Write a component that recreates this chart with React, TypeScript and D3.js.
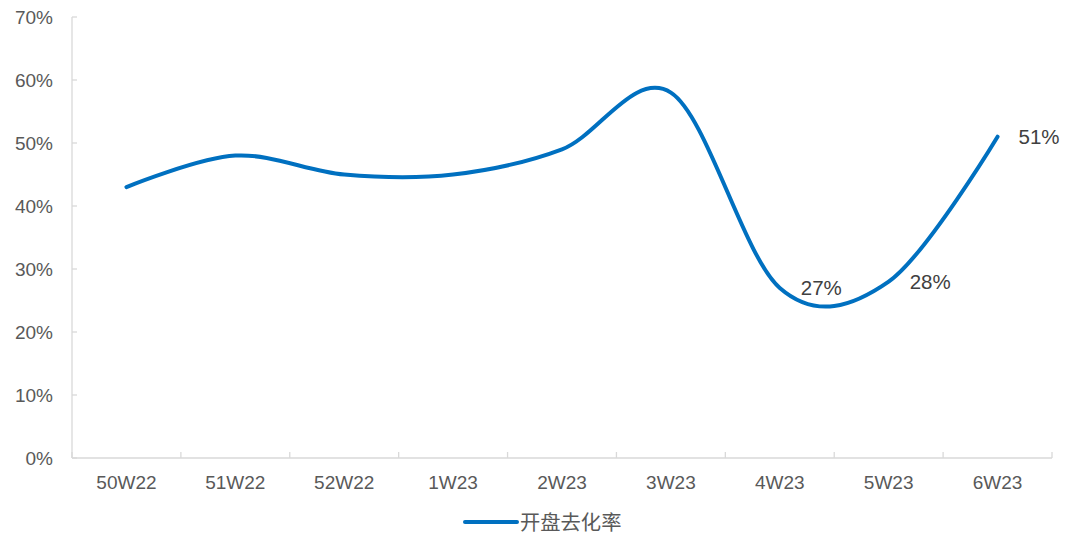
import React from "react";
import * as d3 from "d3";

const categories = ["50W22", "51W22", "52W22", "1W23", "2W23", "3W23", "4W23", "5W23", "6W23"];
const values = [0.43, 0.48, 0.45, 0.45, 0.49, 0.58, 0.27, 0.28, 0.51];
const labeledIdx = [6, 7, 8];
const yTicks = [0, 0.1, 0.2, 0.3, 0.4, 0.5, 0.6, 0.7];
const seriesName = "开盘去化率";

const W = 1076;
const H = 537;
const left = 72;
const right = 1052;
const top = 17;
const bottom = 458;
const font = "'Liberation Sans', Arial, sans-serif";

export default function App() {
  const x = d3.scaleBand<string>().domain(categories).range([left, right]);
  const y = d3.scaleLinear().domain([0, 0.7]).range([bottom, top]);
  const cx = (c: string) => (x(c) ?? 0) + x.bandwidth() / 2;
  const line = d3
    .line<number>()
    .x((_, i) => cx(categories[i]))
    .y((d) => y(d))
    .curve(d3.curveCardinal.tension(0));
  const boundaries = d3.range(categories.length + 1).map((i) => left + i * x.bandwidth());
  const axisColor = "#d9d9d9";
  return (
    <svg width={W} height={H} style={{ position: "absolute", left: 0, top: 0 }}>
      <rect width={W} height={H} fill="#fff" />
      {/* y axis */}
      <line x1={left} x2={left} y1={top} y2={bottom} stroke={axisColor} strokeWidth={1.3} />
      {yTicks.map((t) => (
        <g key={t}>
          <line x1={left} x2={left + 5} y1={y(t)} y2={y(t)} stroke={axisColor} strokeWidth={1.3} />
          <text
            x={53}
            y={y(t)}
            dy="0.36em"
            textAnchor="end"
            fontFamily={font}
            fontSize={19}
            fill="#595959"
          >
            {Math.round(t * 100) + "%"}
          </text>
        </g>
      ))}
      {/* x axis */}
      <line x1={left} x2={right} y1={bottom} y2={bottom} stroke={axisColor} strokeWidth={1.3} />
      {boundaries.map((b, i) => (
        <line key={i} x1={b} x2={b} y1={bottom} y2={bottom - 6} stroke={axisColor} strokeWidth={1.3} />
      ))}
      {categories.map((c) => (
        <text
          key={c}
          x={cx(c)}
          y={489}
          textAnchor="middle"
          fontFamily={font}
          fontSize={19}
          fill="#595959"
        >
          {c}
        </text>
      ))}
      {/* series */}
      <path d={line(values) ?? ""} fill="none" stroke="#0070c0" strokeWidth={4} strokeLinecap="round" />
      {labeledIdx.map((i) => (
        <text
          key={i}
          x={cx(categories[i]) + 21}
          y={y(values[i])}
          dy="0.36em"
          fontFamily={font}
          fontSize={20.5}
          fill="#404040"
        >
          {Math.round(values[i] * 100) + "%"}
        </text>
      ))}
      {/* legend */}
      <line x1={465} x2={517} y1={522} y2={522} stroke="#0070c0" strokeWidth={4} strokeLinecap="round" />
      <text x={520} y={530} fontFamily={"'Noto Sans CJK SC', sans-serif"} fontSize={20.3} fill="#595959">
        {seriesName}
      </text>
    </svg>
  );
}
